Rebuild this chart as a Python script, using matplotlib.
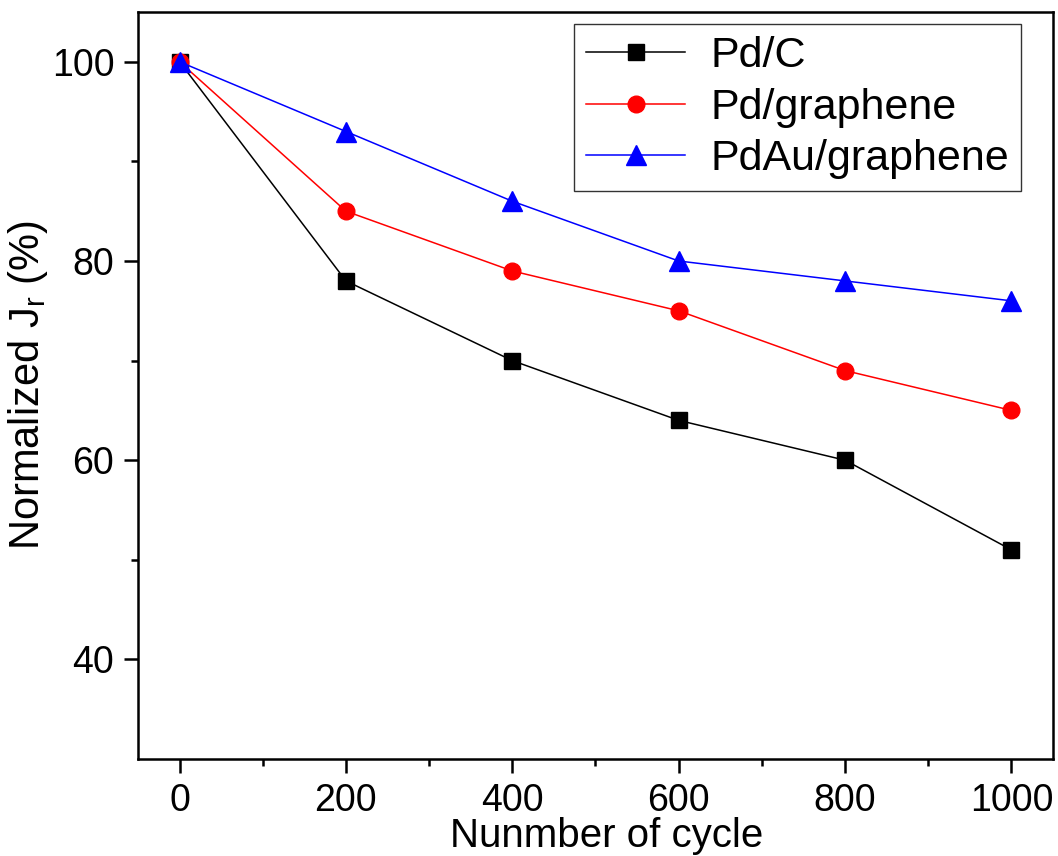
import numpy as np
import matplotlib
matplotlib.use('Agg')
import matplotlib.pyplot as plt

plt.rcParams['font.family'] = ['Liberation Sans', 'DejaVu Sans']
plt.rcParams['mathtext.fontset'] = 'custom'
plt.rcParams['mathtext.rm'] = 'Liberation Sans'
plt.rcParams['mathtext.it'] = 'Liberation Sans'

cycles = [0, 200, 400, 600, 800, 1000]
pd_c = [100, 78, 70, 64, 60, 51]
pd_graphene = [100, 85, 79, 75, 69, 65]
pdau_graphene = [100, 93, 86, 80, 78, 76]

fig = plt.figure(figsize=(10.58, 8.56), dpi=100)
ax = fig.add_axes([0.1304, 0.1133, 0.8649, 0.8727])

ax.plot(cycles, pd_c, color='black', lw=1.1, marker='s', ms=11, label='Pd/C')
ax.plot(cycles, pd_graphene, color='red', lw=1.1, marker='o', ms=12, label='Pd/graphene')
ax.plot(cycles, pdau_graphene, color='blue', lw=1.1, marker='^', ms=14, label='PdAu/graphene')

ax.set_xlim(-50, 1050)
ax.set_ylim(30, 105)
ax.set_xticks([0, 200, 400, 600, 800, 1000])
ax.set_xticks(np.arange(100, 1000, 200), minor=True)
ax.set_yticks([40, 60, 80, 100])
ax.set_yticks([50, 70, 90], minor=True)

for s in ax.spines.values():
    s.set_linewidth(1.8)
ax.tick_params(which='major', direction='out', length=10, width=1.8, labelsize=27, pad=7)
ax.tick_params(which='minor', direction='out', length=5, width=1.8)

ax.set_xlabel('Nunmber of cycle', fontsize=29, labelpad=-1)
ax.xaxis.label.set_x(0.512)
ax.set_ylabel('Normalized J$_\\mathregular{r}$ (%)', fontsize=30, labelpad=1)

leg = ax.legend(loc='upper right', bbox_to_anchor=(0.965, 0.984), borderaxespad=0,
                fontsize=31, frameon=True, fancybox=False, edgecolor='black',
                handlelength=2.3, handletextpad=0.58, labelspacing=0.27, borderpad=0.28)
leg.get_frame().set_linewidth(1.0)

fig.savefig('out.png', dpi=100)
